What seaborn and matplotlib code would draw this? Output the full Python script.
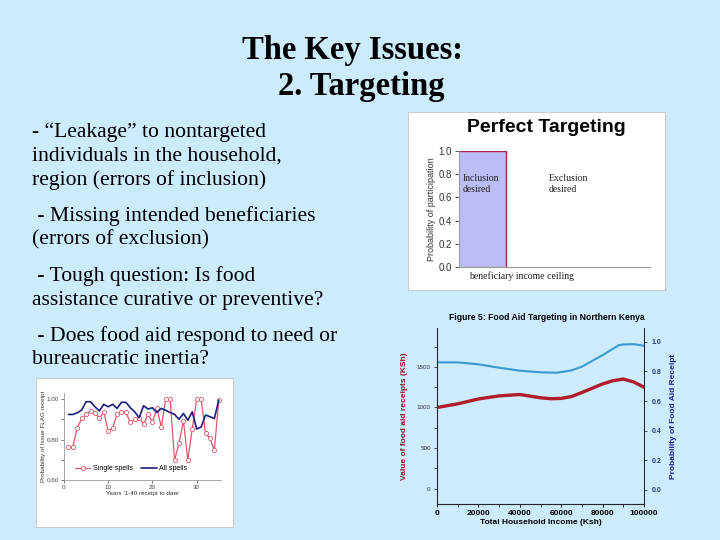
import matplotlib
matplotlib.use("Agg")
import matplotlib.pyplot as plt
from matplotlib.patches import Rectangle
import seaborn as sns

# ---- slide text ----
title_lines = ["The Key Issues:", "2. Targeting"]
bullet_lines = [
    "- \u201cLeakage\u201d to nontargeted",
    "individuals in the household,",
    "region (errors of inclusion)",
    " - Missing intended beneficiaries",
    "(errors of exclusion)",
    " - Tough question: Is food",
    "assistance curative or preventive?",
    " - Does food aid respond to need or",
    "bureaucratic inertia?",
]

# ---- Perfect Targeting ----
pt_income = [0.0, 0.245, 0.245]
pt_prob = [1.0, 1.0, 0.0]
pt_yticks = [0.0, 0.2, 0.4, 0.6, 0.8, 1.0]

# ---- Figure 5: Food Aid Targeting in Northern Kenya ----
income = [0, 10000, 20000, 30000, 40000, 50000, 55000, 60000, 65000,
          70000, 80000, 85000, 90000, 95000, 100000]
aid_value = [1000, 1045, 1105, 1143, 1160, 1120, 1108, 1112, 1135,
             1185, 1290, 1330, 1350, 1315, 1250]
income_p = [0, 10000, 20000, 30000, 40000, 50000, 58000, 65000, 70000,
            80000, 88000, 90000, 95000, 100000]
aid_prob = [0.861, 0.861, 0.848, 0.825, 0.805, 0.794, 0.791, 0.807, 0.832,
            0.910, 0.978, 0.982, 0.984, 0.973]

# ---- spells chart ----
years = list(range(1, 36))
single_spells = [0.764, 0.764, 0.858, 0.904, 0.924, 0.941, 0.930, 0.908, 0.934,
                 0.842, 0.858, 0.924, 0.937, 0.934, 0.885, 0.901, 0.908, 0.875,
                 0.924, 0.888, 0.954, 0.863, 1.000, 1.000, 0.699, 0.781, 0.892,
                 0.699, 0.853, 1.000, 1.000, 0.830, 0.806, 0.748, 0.995]
all_spells = [0.924, 0.924, 0.932, 0.946, 0.987, 0.987, 0.962, 0.941, 0.974,
              0.962, 0.974, 0.954, 0.984, 0.984, 0.957, 0.937, 0.908, 0.967,
              0.951, 0.957, 0.934, 0.954, 0.944, 0.934, 0.924, 0.900, 0.929,
              0.895, 0.937, 0.852, 0.862, 0.921, 0.913, 0.904, 0.995]

BG = "#CCEBFD"
W, H = 720, 540

sns.set_style("white")
plt.rcParams["font.family"] = ["Liberation Sans", "DejaVu Sans"]
plt.rcParams["text.color"] = "black"
plt.rcParams["axes.labelcolor"] = "black"

fig = plt.figure(figsize=(7.2, 5.4), dpi=100)
fig.patch.set_facecolor(BG)


def px_axes(x0, y0, x1, y1):
    return fig.add_axes([x0 / W, 1 - y1 / H, (x1 - x0) / W, (y1 - y0) / H])


def px_box(x0, y0, x1, y1):
    fig.add_artist(Rectangle((x0 / W, 1 - y1 / H), (x1 - x0) / W, (y1 - y0) / H,
                             transform=fig.transFigure, facecolor="white",
                             edgecolor="#c4c4c4", lw=0.6, zorder=-1))


# slide title and bullets
serif = ["Liberation Serif", "DejaVu Serif"]
fig.text(353 / W, 1 - 59 / H, title_lines[0], ha="center", va="baseline",
         fontsize=23.5, fontweight="bold", family=serif)
fig.text(361 / W, 1 - 95 / H, title_lines[1], ha="center", va="baseline",
         fontsize=23.5, fontweight="bold", family=serif)
baselines = [137, 161, 185, 221, 244, 281, 305, 341, 364]
for line, yb in zip(bullet_lines, baselines):
    fig.text(32 / W, 1 - yb / H, line, ha="left", va="baseline",
             fontsize=15.6, family=serif)

# ---- Perfect Targeting panel ----
px_box(408, 112, 665, 290)
ax1 = px_axes(459, 151, 650, 267)
ax1.fill_between(pt_income[:2], pt_prob[:2], 0, color="#BDBDF6", lw=0)
ax1.plot(pt_income, pt_prob, color="#B0204A", lw=1.0)
ax1.set_xlim(0, 1)
ax1.set_ylim(0, 1)
ax1.set_yticks(pt_yticks)
ax1.set_yticklabels([f"{v:.1f}" for v in pt_yticks])
ax1.set_xticks([])
ax1.tick_params(axis="y", labelsize=7, colors="#333333", length=3, width=0.6,
                left=True, pad=2)
for s in ["top", "right"]:
    ax1.spines[s].set_visible(False)
for s in ["left", "bottom"]:
    ax1.spines[s].set_color("#9a9a9a")
    ax1.spines[s].set_linewidth(0.8)
ax1.set_facecolor("white")
ax1.set_ylabel("Probability of participation", fontsize=6.5, labelpad=2,
               color="#333333")
ax1.text(0.02, 0.80, "Inclusion\ndesired", transform=ax1.transAxes, fontsize=7,
         family=serif, va="top", color="#222222", linespacing=1.3)
ax1.text(0.47, 0.80, "Exclusion\ndesired", transform=ax1.transAxes, fontsize=7,
         family=serif, va="top", color="#222222", linespacing=1.3)
ax1.text(0.05, -0.075, "beneficiary income ceiling", transform=ax1.transAxes,
         fontsize=7, family=serif, va="center", color="#222222")
fig.text(546 / W, 1 - 128 / H, "Perfect Targeting", ha="center", va="center",
         fontsize=14, fontweight="bold")

# ---- Food aid targeting chart ----
ax2 = px_axes(437, 328, 644, 504)
ax2.set_facecolor("none")
sns.lineplot(x=income, y=aid_value, ax=ax2, color="#B01C28", lw=2.4)
ax2.set_xlim(0, 100000)
ax2.set_yticks(range(-250, 2000, 250))
ax2.set_yticklabels([str(v) if v % 500 == 0 and v >= 0 else ""
                     for v in range(-250, 2000, 250)])
ax2.set_ylim(-190, 1980)
ax2.set_xticks(range(0, 100001, 20000))
ax2.set_xticks(range(10000, 100000, 20000), minor=True)
ax2.tick_params(axis="x", which="both", labelsize=6, length=2.5, width=0.6,
                bottom=True, pad=2, colors="black")
for lab in ax2.get_xticklabels():
    lab.set_fontweight("bold")
ax2.tick_params(axis="y", labelsize=4.5, length=2.5, width=0.6, left=True,
                colors="#333333", pad=2)
ax2.set_xlabel("Total Household Income (Ksh)", fontsize=6, fontweight="bold",
               labelpad=1)
ax2.set_ylabel("Value of food aid receipts (KSh)", fontsize=6, fontweight="bold",
               color="#A01020", labelpad=6)
ax2.spines["top"].set_visible(False)
for s in ["left", "bottom", "right"]:
    ax2.spines[s].set_color("#222222")
    ax2.spines[s].set_linewidth(0.7)

ax3 = ax2.twinx()
sns.lineplot(x=income_p, y=aid_prob, ax=ax3, color="#3A9AD0", lw=1.5)
ax3.set_ylim(-0.095, 1.093)
ax3.set_yticks([0.0, 0.2, 0.4, 0.6, 0.8, 1.0])
ax3.set_yticklabels(["0.0", "0.2", "0.4", "0.6", "0.8", "1.0"])
ax3.tick_params(axis="y", labelsize=5, length=2.5, width=0.6, right=True,
                colors="#2A3A80", pad=3)
for lab in ax3.get_yticklabels():
    lab.set_fontweight("bold")
ax3.set_ylabel("Probability of Food Aid Receipt", fontsize=6, fontweight="bold",
               color="#2020A0", labelpad=6)
ax3.spines["top"].set_visible(False)
ax3.spines["right"].set_color("#222222")
ax3.spines["right"].set_linewidth(0.7)
fig.text(547 / W, 1 - 318 / H, "Figure 5: Food Aid Targeting in Northern Kenya",
         ha="center", va="center", fontsize=6.2, fontweight="bold")

# ---- spells chart ----
px_box(36, 378, 233, 527)
ax4 = px_axes(64, 393, 221, 480)
sns.lineplot(x=years, y=single_spells, ax=ax4, color="#E0566A", lw=0.9,
             marker="o", markersize=3, markerfacecolor="white",
             markeredgecolor="#E0566A", markeredgewidth=0.6, label="Single spells")
sns.lineplot(x=years, y=all_spells, ax=ax4, color="#1C1C80", lw=1.2,
             label="All spells")
ax4.set_xlim(0, 35.5)
ax4.set_ylim(0.6, 1.03)
ax4.set_xticks([0, 10, 20, 30])
ax4.set_yticks([0.6, 0.7, 0.8, 0.9, 1.0])
ax4.set_yticklabels(["0.60", "", "0.80", "", "1.00"])
ax4.tick_params(labelsize=4.5, length=2, width=0.5, colors="#444444",
                left=True, bottom=True, pad=1.5)
for s in ["top", "right"]:
    ax4.spines[s].set_visible(False)
for s in ["left", "bottom"]:
    ax4.spines[s].set_color("#9a9a9a")
    ax4.spines[s].set_linewidth(0.6)
ax4.set_xlabel("Years '1-40 receipt to date", fontsize=4.5, labelpad=1,
               color="#333333")
ax4.set_ylabel("Probability of Issue FLAG receipt", fontsize=4.5, labelpad=1,
               color="#333333")
ax4.legend(loc="lower left", bbox_to_anchor=(0.03, 0.02), ncol=2, frameon=False,
           fontsize=5, handlelength=2.2, columnspacing=1.2, handletextpad=0.4)

fig.savefig("out.png", dpi=100, facecolor=fig.get_facecolor())
